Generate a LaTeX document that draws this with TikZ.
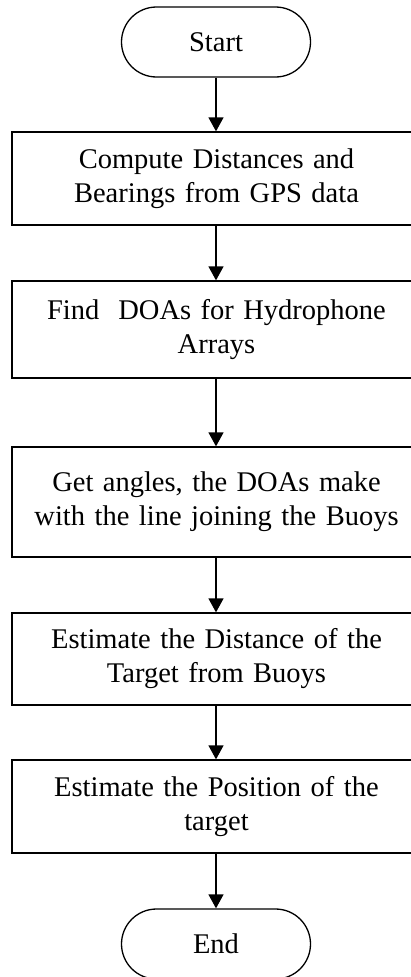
\documentclass[tikz,border=0pt]{standalone}
\usepackage{fontspec}
\setmainfont{Liberation Serif}
\usetikzlibrary{arrows.meta}
\begin{document}
\begin{tikzpicture}[x=1pt,y=-1pt,
  every node/.style={font=\fontsize{28.5}{34}\selectfont, line width=1.3pt, inner sep=0pt},
  terminal/.style={draw, rounded corners=35pt, minimum width=189pt, minimum height=70pt},
  process/.style={draw, minimum width=409pt, text width=400pt, align=center},
  flow/.style={line width=1.3pt, -{Triangle[width=15pt,length=14pt]}}]
  \useasboundingbox (0,0) rectangle (411,977);
  \clip (0,0) rectangle (411,977);
  \fill[white] (0,0) rectangle (411,977);

  % terminals and process steps, top to bottom
  \node[terminal] (start) at (216,42) {Start};
  \node[process, minimum height=93pt] (gps) at (216.5,178.5)
    {Compute Distances and\\Bearings from GPS data};
  \node[process, minimum height=97pt] (doa) at (216.5,329.5)
    {Find\ \ DOAs for Hydrophone\\Arrays};
  \node[process, minimum height=110pt] (ang) at (216.5,502)
    {Get angles, the DOAs make\\with the line joining the Buoys};
  \node[process, minimum height=92pt] (dist) at (216.5,659)
    {Estimate the Distance of the\\Target from Buoys};
  \node[process, minimum height=93pt] (pos) at (216.5,806.5)
    {Estimate the Position of the\\target};
  \node[terminal] (end) at (216,944) {End};

  % connectors along the common vertical axis
  \draw[flow] (start.south) -- (start.south |- gps.north);
  \draw[flow] (gps.south -| start.south) -- (start.south |- doa.north);
  \draw[flow] (doa.south -| start.south) -- (start.south |- ang.north);
  \draw[flow] (ang.south -| start.south) -- (start.south |- dist.north);
  \draw[flow] (dist.south -| start.south) -- (start.south |- pos.north);
  \draw[flow] (pos.south -| start.south) -- (end.north);
\end{tikzpicture}
\end{document}
